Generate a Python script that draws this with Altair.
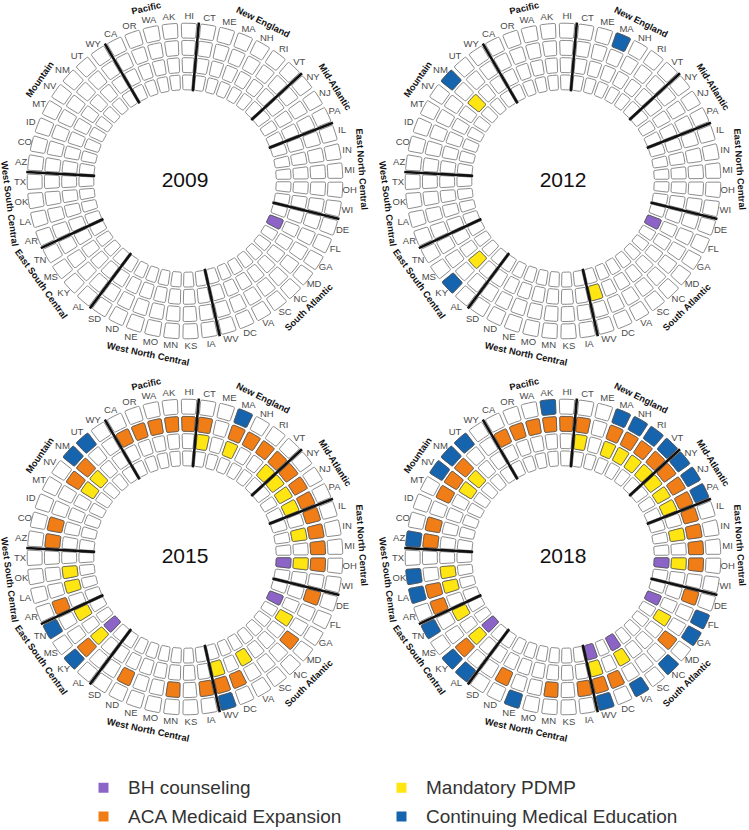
import math
import altair as alt
import pandas as pd

# ---------------- data ----------------
years = ["2009", "2012", "2015", "2018"]

states = ["CT", "ME", "MA", "NH", "RI", "VT", "NY", "NJ", "PA", "IL", "IN", "MI", "OH", "WI",
          "DE", "FL", "GA", "MD", "NC", "SC", "VA", "DC", "WV", "IA", "KS", "MN", "MO", "NE",
          "ND", "SD", "AL", "KY", "MS", "TN", "AR", "LA", "OK", "TX", "AZ", "CO", "ID", "MT",
          "NV", "NM", "UT", "WY", "CA", "OR", "WA", "AK", "HI"]

region_names = ["New England", "Mid-Atlantic", "East North Central", "South Atlantic",
                "West North Central", "East South Central", "West South Central",
                "Mountain", "Pacific"]
region_sizes = [6, 3, 5, 9, 7, 4, 4, 8, 5]

# rings, inner -> outer
policies = ["BH counseling", "Mandatory PDMP", "ACA Medicaid Expansion",
            "Continuing Medical Education"]
# legend order (column by column) and colours
legend_order = ["BH counseling", "ACA Medicaid Expansion", "Mandatory PDMP",
                "Continuing Medical Education"]
legend_colors = ["#8c64c8", "#f07d16", "#ffe512", "#1664ad"]

bh_counseling = {
    "2009": ["FL"],
    "2012": ["FL"],
    "2015": ["OH", "FL", "KY"],
    "2018": ["OH", "FL", "VA", "WV", "KY"],
}
mandatory_pdmp = {
    "2009": [],
    "2012": ["WV", "KY", "NM"],
    "2015": ["CT", "MA", "VT", "NY", "NJ", "PA", "IN", "OH", "GA", "VA", "WV", "KY", "TN",
             "LA", "OK", "NV", "NM"],
    "2018": ["CT", "MA", "NH", "RI", "VT", "NY", "NJ", "PA", "IN", "OH", "GA", "VA", "WV",
             "KY", "TN", "LA", "OK", "NV", "NM"],
}
aca_expansion = {
    "2009": [],
    "2012": [],
    "2015": ["CT", "MA", "NH", "RI", "VT", "NY", "NJ", "PA", "IL", "IN", "MI", "OH", "DE",
             "MD", "DC", "WV", "IA", "MN", "ND", "KY", "AR", "AZ", "CO", "NV", "NM", "CA",
             "OR", "WA", "AK", "HI"],
    "2018": ["CT", "MA", "NH", "RI", "VT", "NY", "NJ", "PA", "IL", "IN", "MI", "OH", "DE",
             "MD", "DC", "WV", "IA", "MN", "ND", "KY", "AR", "LA", "AZ", "CO", "MT", "NV",
             "NM", "CA", "OR", "WA", "AK", "HI"],
}
cme = {
    "2009": [],
    "2012": ["MA", "KY", "NM"],
    "2015": ["MA", "WV", "KY", "TN", "NM", "UT"],
    "2018": ["MA", "NH", "RI", "VT", "NY", "NJ", "PA", "FL", "GA", "NC", "VA", "WV", "NE",
             "AL", "KY", "TN", "LA", "OK", "AZ", "NV", "NM", "UT", "AK"],
}
policy_tables = [bh_counseling, mandatory_pdmp, aca_expansion, cme]

# ---------------- tables ----------------
n = len(states)
pos = {s: i for i, s in enumerate(states)}
panel_col = {y: k % 2 for k, y in enumerate(years)}
panel_row = {y: k // 2 for k, y in enumerate(years)}

grid = pd.DataFrame([
    {"year": y, "col": panel_col[y], "row": panel_row[y], "state": s, "pos": i,
     "pos_end": i + 1, "ring": r, "ring_out": r + 1}
    for y in years for i, s in enumerate(states) for r in range(len(policies))
])
state_df = pd.DataFrame([
    {"year": y, "col": panel_col[y], "row": panel_row[y], "state": s, "pos": i}
    for y in years for i, s in enumerate(states)
])

active = []
for r, (pname, table) in enumerate(zip(policies, policy_tables)):
    for y in years:
        for s in table[y]:
            active.append({"year": y, "col": panel_col[y], "row": panel_row[y],
                           "state": s, "policy": pname, "pos": pos[s],
                           "pos_end": pos[s] + 1, "ring": r, "ring_out": r + 1})
active_df = pd.DataFrame(active)

starts = []
acc = 0
for sz in region_sizes:
    starts.append(acc)
    acc += sz
region_df = pd.DataFrame([
    {"year": y, "col": panel_col[y], "row": panel_row[y], "region": name,
     "start": st, "size": sz}
    for y in years for name, st, sz in zip(region_names, starts, region_sizes)
])
year_df = pd.DataFrame({"year": years, "col": [panel_col[y] for y in years],
                        "row": [panel_row[y] for y in years]})

# ---------------- scales / layout ----------------
OFFSET_DEG = 5.0
t0 = math.radians(OFFSET_DEG)
theta_scale = alt.Scale(domain=[0, n], range=[t0, t0 + 2 * math.pi])
radius_scale = alt.Scale(type="linear", domain=[0, 4], range=[90, 159], zero=False)
x_scale = alt.Scale(domain=[0, 1], range=[185, 563], nice=False, zero=False)
y_scale = alt.Scale(domain=[0, 1], range=[181, 557], nice=False, zero=False)
color_scale = alt.Scale(domain=legend_order, range=legend_colors)
legend = alt.Legend(
    title=None, orient="none", legendX=94, legendY=778, columns=2, padding=0,
    symbolType="square", symbolSize=100, symbolStrokeWidth=0, symbolOpacity=1,
    labelFontSize=19, labelFont="Liberation Sans", labelColor="#333333",
    labelOffset=15, columnPadding=49, rowPadding=9, labelLimit=400,
)

X = alt.X("col:Q", scale=x_scale, axis=None)
Y = alt.Y("row:Q", scale=y_scale, axis=None)
cell_kw = dict(padAngle=0.018, cornerRadius=1.5, radiusOffset=-1.2, radius2Offset=1.2)

base = alt.Chart(grid).mark_arc(
    fill="white", stroke="#7f7f7f", strokeWidth=0.9, **cell_kw
).encode(
    x=X, y=Y,
    theta=alt.Theta("pos:Q", scale=theta_scale, stack=False),
    theta2="pos_end:Q",
    radius=alt.Radius("ring_out:Q", scale=radius_scale),
    radius2="ring:Q",
)

colored = alt.Chart(active_df).mark_arc(
    stroke="#4d4d4d", strokeWidth=0.7, opacity=1, **cell_kw
).encode(
    x=X, y=Y,
    theta=alt.Theta("pos:Q", scale=theta_scale, stack=False),
    theta2="pos_end:Q",
    radius=alt.Radius("ring_out:Q", scale=radius_scale),
    radius2="ring:Q",
    color=alt.Color("policy:N", scale=color_scale, legend=legend),
)

dividers = alt.Chart(region_df).mark_arc(
    filled=False, stroke="#111111", strokeWidth=2.6
).encode(
    x=X, y=Y,
    theta=alt.Theta("start:Q", scale=theta_scale, stack=False),
    theta2="start:Q",
    radius=alt.datum(4),
    radius2=alt.datum(0),
)

state_labels = alt.Chart(state_df).transform_calculate(
    mid="datum.pos + 0.5"
).mark_text(
    fontSize=9.5, color="#4a4a4a", font="Liberation Sans"
).encode(
    x=X, y=Y,
    theta=alt.Theta("mid:Q", scale=theta_scale, stack=False),
    radius=alt.value(165),
    text="state:N",
)

# region titles follow the circle; those on the left are nudged
# half a sector counter-clockwise, as in the original figure
region_labels = alt.Chart(region_df).transform_calculate(
    mid0="datum.start + datum.size / 2",
).transform_calculate(
    deg0=f"{OFFSET_DEG} + datum.mid0 * 360 / {n}",
).transform_calculate(
    mid="(datum.deg0 > 200 && datum.deg0 < 320) ? datum.mid0 + 0.5 : datum.mid0",
).transform_calculate(
    deg=f"{OFFSET_DEG} + datum.mid * 360 / {n}",
).transform_calculate(
    ang="((datum.deg > 90 && datum.deg < 270) ? datum.deg - 180 : datum.deg) % 360"
).transform_calculate(
    ang2="(datum.ang + 360) % 360"
).mark_text(
    fontSize=9.3, fontWeight="bold", color="#111111", font="Liberation Sans",
    align="center", baseline="middle",
).encode(
    x=X, y=Y,
    theta=alt.Theta("mid:Q", scale=theta_scale, stack=False),
    radius=alt.value(177),
    angle=alt.Angle("ang2:Q", scale=None),
    text="region:N",
)

year_labels = alt.Chart(year_df).mark_text(
    fontSize=21, color="#111111", font="Liberation Sans"
).encode(x=X, y=Y, text="year:N")

chart = alt.layer(
    base, colored, dividers, state_labels, region_labels, year_labels
).properties(
    width=749, height=830, padding=0, background="white",
    autosize=alt.AutoSizeParams(type="none"),
).configure(font="Liberation Sans").configure_view(strokeWidth=0)

chart.save("out.html", embed_options={"renderer": "svg", "actions": False})
